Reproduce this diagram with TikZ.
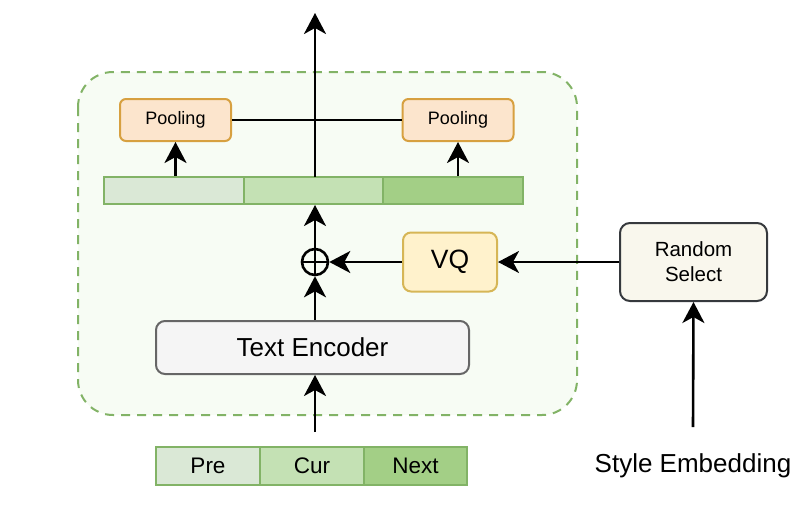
\documentclass[tikz,border=0pt]{standalone}
\usepackage{fontspec}
\setmainfont{Liberation Sans}
\usetikzlibrary{arrows.meta,calc}
\definecolor{frameg}{RGB}{130,179,102}
\definecolor{framefill}{RGB}{247,252,244}
\definecolor{segA}{RGB}{218,232,214}
\definecolor{segB}{RGB}{196,225,180}
\definecolor{segC}{RGB}{163,207,134}
\definecolor{poolfill}{RGB}{252,229,205}
\definecolor{pooldraw}{RGB}{215,160,64}
\definecolor{vqfill}{RGB}{255,242,204}
\definecolor{vqdraw}{RGB}{214,182,86}
\definecolor{rsfill}{RGB}{249,247,237}
\definecolor{rsdraw}{RGB}{54,57,61}
\definecolor{tefill}{RGB}{245,245,245}
\definecolor{tedraw}{RGB}{102,102,102}
\tikzset{
  conn/.style={line width=2.6pt,-{Stealth[length=21pt,width=22pt,inset=6pt]}},
  plainline/.style={line width=2.6pt},
  seg/.style={draw=frameg,line width=2pt,inner sep=0pt,anchor=center},
  poolbox/.style={draw=pooldraw,fill=poolfill,line width=2pt,rounded corners=6pt,minimum width=111pt,minimum height=42pt,inner sep=0pt,font=\fontsize{18}{21}\selectfont},
}
\begin{document}
\begin{tikzpicture}[x=1pt,y=-1pt]
\useasboundingbox (0,0) rectangle (800,522);
% container
\draw[draw=frameg,fill=framefill,line width=2pt,dash pattern=on 9pt off 7pt,rounded corners=35pt] (78,72) rectangle (577,415);
% top bar segments
\node[seg,fill=segA,minimum width=140pt,minimum height=27pt] (b1) at (174,190.5) {};
\node[seg,fill=segB,minimum width=139pt,minimum height=27pt] (b2) at (313.5,190.5) {};
\node[seg,fill=segC,minimum width=140pt,minimum height=27pt] (b3) at (453,190.5) {};
% pooling
\node[poolbox] (p1) at (175.5,120) {Pooling};
\node[poolbox] (p2) at (458,120) {Pooling};
\draw[plainline] (p1.east) -- (p2.west);
\coordinate (top) at (315,13);
\draw[conn] (315,177) -- (top);
\draw[conn] (p1.south |- b1.north) -- (p1.south);
\draw[conn] (p2.south |- b3.north) -- (p2.south);
% oplus
\node[circle,draw=black,line width=2.6pt,minimum size=26pt,inner sep=0pt,
  path picture={\draw[line width=2.6pt] (path picture bounding box.north) -- (path picture bounding box.south);
                \draw[line width=2.6pt] (path picture bounding box.west) -- (path picture bounding box.east);}] (op) at (315,262) {};
\draw[conn] (op.north) -- (315,205);
% VQ
\node[draw=vqdraw,fill=vqfill,line width=2pt,rounded corners=8pt,minimum width=94pt,minimum height=59pt,inner sep=0pt,font=\fontsize{26.5}{30}\selectfont] (vq) at (450,262) {VQ};
\draw[conn] (vq.west) -- (op.east);
% Random Select
\node[draw=rsdraw,fill=rsfill,line width=2pt,rounded corners=10pt,minimum width=147pt,minimum height=78pt,inner sep=0pt,align=center,font=\fontsize{20.5}{25}\selectfont] (rs) at (693.5,262) {Random\\Select};
\draw[conn] (rs.west) -- (vq.east);
% Text encoder
\node[draw=tedraw,fill=tefill,line width=2pt,rounded corners=9pt,minimum width=313pt,minimum height=53pt,inner sep=0pt,font=\fontsize{26}{30}\selectfont] (te) at (312.5,347.5) {Text Encoder};
\draw[conn] (te.north -| op.south) -- (op.south);
% bottom bar
\node[seg,fill=segA,minimum width=104pt,minimum height=38pt,font=\fontsize{22.5}{26}\selectfont] (pre) at (208,466) {Pre};
\node[seg,fill=segB,minimum width=104pt,minimum height=38pt,font=\fontsize{22.5}{26}\selectfont] (cur) at (312,466) {Cur};
\node[seg,fill=segC,minimum width=103pt,minimum height=38pt,font=\fontsize{22.5}{26}\selectfont] (nxt) at (415.5,466) {Next};
\coordinate (inbot) at (315,432);
\draw[conn] (inbot) -- (te.south -| inbot);
% style embedding
\node[font=\fontsize{26}{30}\selectfont,inner sep=0pt] (se) at (693,466) {Style Embedding};
\coordinate (sebot) at (693,427);
\draw[conn] (sebot) -- (rs.south);
\end{tikzpicture}
\end{document}
